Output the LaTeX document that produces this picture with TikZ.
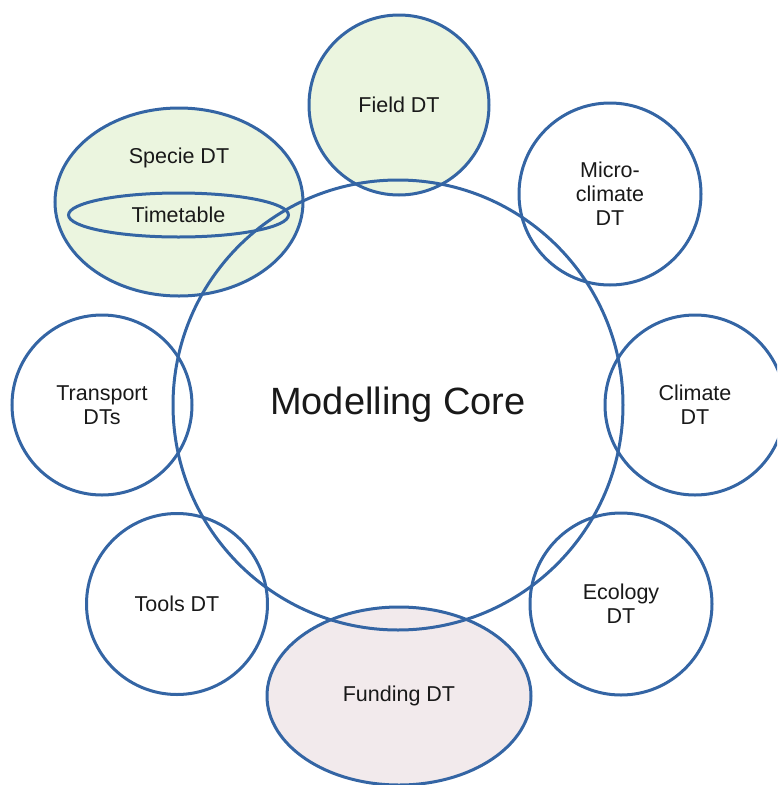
\documentclass[tikz,border=0pt]{standalone}
\usepackage{fontspec}
\setmainfont{Liberation Sans}
\usepackage{tikz}
\usetikzlibrary{shapes.geometric}

\definecolor{dtblue}{RGB}{52,101,164}
\definecolor{dtgreen}{RGB}{235,245,223}
\definecolor{dtpink}{RGB}{242,234,236}

\tikzset{
  dt/.style={circle, draw=dtblue, line width=3pt, minimum size=180pt, inner sep=0pt,
    align=center, font=\fontsize{21.5}{24}\selectfont, text=black!90},
  dtell/.style={ellipse, draw=dtblue, line width=3pt, inner sep=0pt,
    align=center, font=\fontsize{21.5}{24}\selectfont, text=black!90},
}

\begin{document}
\begin{tikzpicture}[x=1pt, y=-1pt]
\clip (0,0) rectangle (777,785);
\useasboundingbox (0,0) rectangle (777,785);

% satellites
\node[dt, fill=dtgreen] (field) at (399,105) {Field DT};
\node[dt, minimum size=182pt] (micro) at (610,194) {Micro-\\climate\\DT};
\node[dt] (climate) at (695,405) {Climate\\DT};
\node[dt, minimum size=182pt] (ecology) at (621,604) {Ecology\\DT};
\node[dtell, fill=dtpink, minimum width=264pt, minimum height=178pt] (funding) at (399,696) {Funding DT};
\node[dt, minimum size=181pt] (tools) at (177,604) {Tools DT};
\node[dt] (transport) at (102,405) {Transport\\DTs};

% specie with timetable inside
\node[dtell, fill=dtgreen, minimum width=248pt, minimum height=188pt] (specie) at (179,202) {};
\node[font=\fontsize{21.5}{24}\selectfont, text=black!90] (speciet) at (179,158) {Specie DT};
\node[dtell, minimum width=220pt, minimum height=44pt] (timetable) at (178.5,215) {Timetable};

% core on top, no fill
\node[circle, draw=dtblue, line width=3pt, minimum size=450pt, inner sep=0pt,
  font=\fontsize{38}{44}\selectfont, text=black!90] (core) at (398,405) {Modelling Core};

\end{tikzpicture}
\end{document}
